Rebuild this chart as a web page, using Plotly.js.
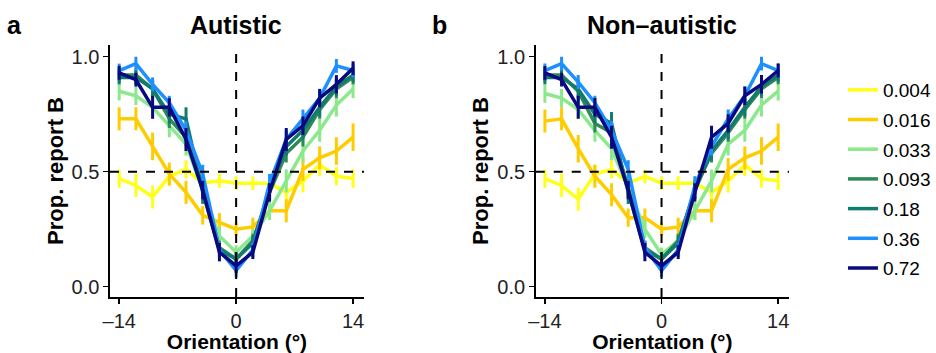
<!DOCTYPE html>
<html>
<head>
<meta charset="utf-8">
<script src="https://cdn.plot.ly/plotly-3.0.1.min.js"></script>
<style>html,body{margin:0;padding:0;background:#fff}#chart{width:936px;height:353px}</style>
</head>
<body>
<div id="chart"></div>
<script>
// ---- data ----
const orientation = [-14,-12,-10,-8,-6,-4,-2,0,2,4,6,8,10,12,14];
const levels = ['0.004','0.016','0.033','0.093','0.18','0.36','0.72'];
const colors = ['#FFFF1A','#FFCC00','#8CE88C','#2E8B57','#137A6E','#1E8FFF','#0A0A80'];
const xTicks = [-14, 0, 14];
const yTicks = [0, 0.5, 1];

// Autistic panel: proportion report B
const aut004 = [0.47,0.44,0.39,0.48,0.51,0.45,0.46,0.45,0.45,0.45,0.41,0.46,0.53,0.48,0.47];
const aut016 = [0.73,0.73,0.61,0.49,0.41,0.31,0.28,0.25,0.26,0.33,0.33,0.51,0.56,0.59,0.65];
const aut033 = [0.85,0.83,0.78,0.70,0.62,0.42,0.22,0.15,0.22,0.33,0.46,0.59,0.68,0.79,0.86];
const aut093 = [0.92,0.92,0.86,0.73,0.65,0.44,0.17,0.12,0.20,0.41,0.58,0.65,0.77,0.86,0.91];
const aut18  = [0.91,0.91,0.86,0.75,0.73,0.41,0.16,0.12,0.19,0.42,0.61,0.68,0.78,0.87,0.92];
const aut36  = [0.94,0.97,0.88,0.80,0.68,0.49,0.16,0.07,0.16,0.45,0.64,0.73,0.82,0.96,0.94];
const aut72  = [0.93,0.90,0.78,0.78,0.64,0.42,0.15,0.09,0.15,0.41,0.64,0.70,0.82,0.88,0.95];
// Autistic panel: error bars (half-length)
const autErr004 = [0.04,0.05,0.05,0.04,0.04,0.04,0.03,0.03,0.03,0.03,0.04,0.05,0.05,0.04,0.04];
const autErr016 = [0.05,0.05,0.06,0.05,0.05,0.04,0.04,0.03,0.04,0.04,0.05,0.05,0.05,0.06,0.06];
const autErr033 = [0.04,0.04,0.04,0.05,0.05,0.04,0.04,0.03,0.03,0.04,0.05,0.05,0.05,0.05,0.04];
const autErr093 = [0.03,0.03,0.04,0.04,0.04,0.04,0.03,0.03,0.03,0.04,0.04,0.04,0.04,0.04,0.03];
const autErr18  = [0.03,0.03,0.04,0.04,0.05,0.05,0.03,0.03,0.03,0.04,0.04,0.04,0.04,0.04,0.03];
const autErr36  = [0.03,0.03,0.03,0.03,0.04,0.04,0.03,0.03,0.03,0.04,0.04,0.04,0.04,0.03,0.03];
const autErr72  = [0.03,0.03,0.05,0.04,0.05,0.04,0.04,0.03,0.03,0.04,0.05,0.04,0.04,0.04,0.03];

// Non-autistic panel: proportion report B
const non004 = [0.47,0.44,0.38,0.49,0.51,0.45,0.48,0.45,0.45,0.45,0.41,0.46,0.53,0.47,0.46];
const non016 = [0.72,0.73,0.60,0.48,0.40,0.30,0.30,0.25,0.26,0.33,0.33,0.51,0.56,0.59,0.65];
const non033 = [0.84,0.82,0.77,0.68,0.60,0.43,0.25,0.14,0.20,0.33,0.46,0.62,0.68,0.79,0.85];
const non093 = [0.92,0.92,0.85,0.71,0.67,0.43,0.17,0.12,0.20,0.42,0.58,0.67,0.77,0.86,0.91];
const non18  = [0.91,0.91,0.86,0.75,0.71,0.41,0.16,0.12,0.19,0.42,0.59,0.68,0.78,0.87,0.92];
const non36  = [0.94,0.97,0.89,0.80,0.68,0.51,0.17,0.07,0.16,0.44,0.61,0.73,0.83,0.97,0.94];
const non72  = [0.93,0.90,0.78,0.78,0.65,0.42,0.15,0.09,0.15,0.41,0.65,0.71,0.83,0.88,0.94];
// Non-autistic panel: error bars (half-length)
const nonErr004 = [0.04,0.05,0.05,0.04,0.04,0.04,0.03,0.03,0.03,0.03,0.04,0.05,0.05,0.04,0.04];
const nonErr016 = [0.05,0.05,0.06,0.05,0.05,0.04,0.04,0.03,0.04,0.04,0.05,0.05,0.05,0.06,0.06];
const nonErr033 = [0.04,0.04,0.04,0.05,0.05,0.04,0.04,0.03,0.03,0.04,0.05,0.05,0.05,0.05,0.04];
const nonErr093 = [0.03,0.03,0.04,0.04,0.04,0.04,0.03,0.03,0.03,0.04,0.04,0.04,0.04,0.04,0.03];
const nonErr18  = [0.03,0.03,0.04,0.04,0.05,0.05,0.03,0.03,0.03,0.04,0.04,0.04,0.04,0.04,0.03];
const nonErr36  = [0.03,0.03,0.03,0.03,0.04,0.04,0.03,0.03,0.03,0.04,0.04,0.04,0.04,0.03,0.03];
const nonErr72  = [0.03,0.03,0.05,0.04,0.05,0.04,0.04,0.03,0.03,0.04,0.05,0.04,0.04,0.04,0.03];

const autVals = [aut004, aut016, aut033, aut093, aut18, aut36, aut72];
const autErrs = [autErr004, autErr016, autErr033, autErr093, autErr18, autErr36, autErr72];
const nonVals = [non004, non016, non033, non093, non18, non36, non72];
const nonErrs = [nonErr004, nonErr016, nonErr033, nonErr093, nonErr18, nonErr36, nonErr72];

// ---- traces ----
const traces = [];
function addPanel(vals, errs, xa, ya, legend) {
  vals.forEach((v, i) => {
    traces.push({
      x: orientation, y: v, type: 'scatter', mode: 'lines',
      xaxis: xa, yaxis: ya,
      name: levels[i], legendgroup: 'g' + i, showlegend: legend,
      line: {color: colors[i], width: 3.5},
      error_y: {type: 'data', array: errs[i], visible: true, color: colors[i], thickness: 3, width: 0},
      hoverinfo: 'skip'
    });
  });
}
addPanel(autVals, autErrs, 'x', 'y', true);
addPanel(nonVals, nonErrs, 'x2', 'y2', false);

const font = 'Liberation Sans, Arial, Helvetica, sans-serif';
const xBase = {
  range: [-15.1, 15.3], tickvals: xTicks, ticktext: ['\u201314','0','14'],
  showgrid: false, zeroline: false, showline: true, linecolor: '#000', linewidth: 1.6,
  ticks: 'outside', ticklen: 5, tickwidth: 1.4, tickcolor: '#000',
  tickfont: {family: font, size: 20, color: '#222'},
  title: {text: '<b>Orientation (°)</b>', font: {family: font, size: 21, color: '#000'}, standoff: 4}
};
const yBase = {
  range: [-0.045, 1.051], tickvals: yTicks, ticktext: ['0.0','0.5','1.0'],
  showgrid: false, zeroline: false, showline: true, linecolor: '#000', linewidth: 1.6,
  ticks: 'outside', ticklen: 5, tickwidth: 1.4, tickcolor: '#000',
  tickfont: {family: font, size: 20, color: '#222'},
  title: {text: '<b>Prop. report B</b>', font: {family: font, size: 22, color: '#000'}, standoff: 2}
};

const dash = {color: '#000', width: 2, dash: 'dash'};
const layout = {
  width: 936, height: 353,
  margin: {l: 110, r: 147, t: 45, b: 56},
  paper_bgcolor: '#fff', plot_bgcolor: '#fff',
  showlegend: true,
  xaxis: Object.assign({}, xBase, {domain: [0, 0.374], anchor: 'y'}),
  yaxis: Object.assign({}, yBase, {domain: [0, 1], anchor: 'x'}),
  xaxis2: Object.assign({}, xBase, {domain: [0.627, 1], anchor: 'y2'}),
  yaxis2: Object.assign({}, yBase, {domain: [0, 1], anchor: 'x2'}),
  legend: {
    xref: 'container', yref: 'container',
    x: 0.9006, xanchor: 'left', y: 0.799, yanchor: 'top',
    maxheight: 320,
    font: {family: font, size: 19, color: '#000'},
    tracegroupgap: 2, itemwidth: 30, bgcolor: 'rgba(0,0,0,0)'
  },
  shapes: [
    {type: 'line', xref: 'x', yref: 'y domain', x0: 0, x1: 0, y0: 0, y1: 1, line: dash, layer: 'above'},
    {type: 'line', xref: 'x domain', yref: 'y', x0: 0, x1: 1, y0: 0.5, y1: 0.5, line: dash, layer: 'above'},
    {type: 'line', xref: 'x2', yref: 'y2 domain', x0: 0, x1: 0, y0: 0, y1: 1, line: dash, layer: 'above'},
    {type: 'line', xref: 'x2 domain', yref: 'y2', x0: 0, x1: 1, y0: 0.5, y1: 0.5, line: dash, layer: 'above'}
  ],
  annotations: [
    {text: '<b>Autistic</b>', xref: 'x', yref: 'paper', x: 0, y: 1, yshift: 4, yanchor: 'bottom', showarrow: false, font: {family: font, size: 25, color: '#000'}},
    {text: '<b>Non\u2013autistic</b>', xref: 'x2', yref: 'paper', x: 0, y: 1, yshift: 4, yanchor: 'bottom', showarrow: false, font: {family: font, size: 25, color: '#000'}},
    {text: '<b>a</b>', xref: 'paper', yref: 'paper', x: -0.14, y: 1, yshift: 4, xanchor: 'center', yanchor: 'bottom', showarrow: false, font: {family: font, size: 25, color: '#000'}},
    {text: '<b>b</b>', xref: 'paper', yref: 'paper', x: 0.485, y: 1, yshift: 4, xanchor: 'center', yanchor: 'bottom', showarrow: false, font: {family: font, size: 25, color: '#000'}}
  ]
};

Plotly.newPlot('chart', traces, layout, {displayModeBar: false, staticPlot: true});
</script>
</body>
</html>
